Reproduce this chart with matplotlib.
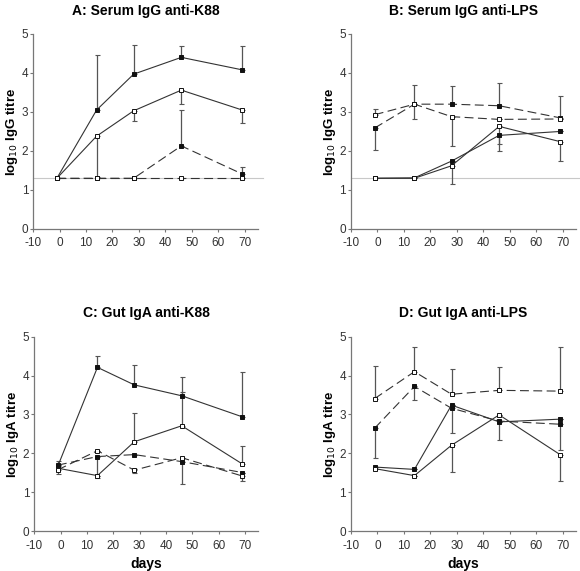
import matplotlib
matplotlib.use("Agg")
import matplotlib.pyplot as plt
import numpy as np

plt.rcParams["font.family"] = ["Liberation Sans", "DejaVu Sans"]
plt.rcParams["axes.unicode_minus"] = False

days = [-1, 14, 28, 46, 69]

# each series: (values, lower err, upper err, filled, dashed)
panel_a = [
    ([1.30, 3.05, 3.97, 4.40, 4.08], [0, 0, 0, 0, 0], [0, 1.41, 0.75, 0.30, 0.60], True, False),
    ([1.30, 2.38, 3.03, 3.56, 3.05], [0, 1.04, 0.25, 0.36, 0.34], [0, 0, 0, 0, 0], False, False),
    ([1.30, 1.30, 1.30, 2.13, 1.41], [0, 0, 0, 0, 0], [0, 0, 0, 0.92, 0.19], True, True),
    ([1.30, 1.30, 1.30, 1.30, 1.30], [0, 0, 0, 0, 0], [0, 0, 0, 0, 0], False, True),
]
panel_b = [
    ([2.59, 3.20, 3.20, 3.16, 2.85], [0.56, 0, 0, 0, 0], [0, 0.48, 0.47, 0.58, 0.57], True, True),
    ([2.93, 3.20, 2.88, 2.81, 2.82], [0, 0.39, 0.74, 0, 0], [0.14, 0, 0, 0, 0], False, True),
    ([1.30, 1.31, 1.74, 2.40, 2.50], [0, 0, 0, 0.40, 0], [0, 0, 0, 0, 0], True, False),
    ([1.30, 1.30, 1.62, 2.63, 2.24], [0, 0, 0.47, 0.45, 0.50], [0, 0, 0, 0, 0], False, False),
]
panel_c = [
    ([1.68, 4.21, 3.76, 3.48, 2.94], [0, 0, 0, 0, 0], [0.12, 0.28, 0.51, 0.49, 1.15], True, False),
    ([1.62, 1.43, 2.30, 2.71, 1.73], [0, 0.05, 0, 0, 0], [0, 0, 0.75, 0.88, 0.47], False, False),
    ([1.70, 1.92, 1.97, 1.79, 1.51], [0, 0.49, 0, 0.58, 0], [0, 0, 0, 0, 0], True, True),
    ([1.58, 2.07, 1.57, 1.89, 1.42], [0.10, 0, 0.06, 0, 0.14], [0, 0, 0, 0, 0], False, True),
]
panel_d = [
    ([3.41, 4.10, 3.52, 3.62, 3.60], [0, 0, 0, 0, 0], [0.84, 0.64, 0.64, 0.59, 1.14], False, True),
    ([2.65, 3.72, 3.16, 2.83, 2.75], [0.76, 0.35, 0.63, 0.48, 0.66], [0, 0, 0, 0, 0], True, True),
    ([1.65, 1.59, 3.24, 2.81, 2.88], [0, 0, 0, 0, 0], [0, 0, 0, 0, 0], True, False),
    ([1.61, 1.43, 2.21, 2.99, 1.97], [0, 0, 0.68, 0, 0.67], [0, 0, 0, 0, 0], False, False),
]

titles = ["A: Serum IgG anti-K88", "B: Serum IgG anti-LPS",
          "C: Gut IgA anti-K88", "D: Gut IgA anti-LPS"]
ylabels = [r"log$_{10}$ IgG titre", r"log$_{10}$ IgG titre",
           r"log$_{10}$ IgA titre", r"log$_{10}$ IgA titre"]
detection_limit = 1.3

fig = plt.figure(figsize=(5.8, 5.71), dpi=100)
rects = [
    [0.057, 0.599, 0.388, 0.3415],
    [0.605, 0.599, 0.388, 0.3415],
    [0.059, 0.0695, 0.386, 0.341],
    [0.605, 0.0695, 0.388, 0.341],
]
panels = [panel_a, panel_b, panel_c, panel_d]

for i, (rect, series) in enumerate(zip(rects, panels)):
    ax = fig.add_axes(rect)
    if i < 2:
        ax.axhline(detection_limit, color="#c8c8c8", linewidth=0.8, zorder=1,
                   xmax=1.02, clip_on=False)
    for vals, lo, hi, filled, dashed in series:
        ax.errorbar(days, vals, yerr=[lo, hi], fmt="none", ecolor="#555555",
                    elinewidth=0.9, capsize=1.8, capthick=0.8, zorder=2)
        ax.plot(days, vals, color="#333333", linewidth=0.8,
                linestyle=(0, (8, 4)) if dashed else "-",
                marker="s", markersize=3.0, markeredgewidth=0.7,
                markerfacecolor="#111111" if filled else "white",
                markeredgecolor="#111111", zorder=3)
    ax.set_xlim(-10, 75)
    ax.set_ylim(0, 5)
    ax.set_xticks(range(-10, 71, 10))
    ax.set_yticks(range(0, 6))
    for s in ["top", "right"]:
        ax.spines[s].set_visible(False)
    for s in ["left", "bottom"]:
        ax.spines[s].set_color("#777777")
        ax.spines[s].set_linewidth(0.9)
    ax.tick_params(length=2.5, width=0.8, color="#777777", labelsize=8.5,
                   labelcolor="#333333")
    ax.tick_params(axis="y", pad=1)
    ax.tick_params(axis="x", pad=3.5)
    ax.set_title(titles[i], fontsize=10, fontweight="bold", pad=14)
    ax.set_ylabel(ylabels[i], fontsize=9.5, fontweight="bold", labelpad=1)
    if i >= 2:
        ax.set_xlabel("days", fontsize=10, fontweight="bold", labelpad=4)

fig.savefig("out.png", dpi=100)
